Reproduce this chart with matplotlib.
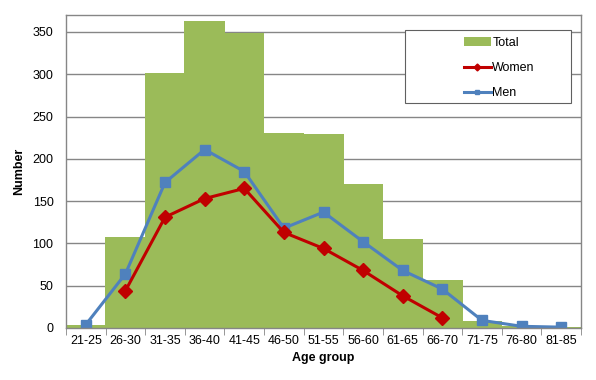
import matplotlib
matplotlib.use("Agg")
import matplotlib.pyplot as plt
from matplotlib.patches import Rectangle
import numpy as np

plt.rcParams['font.family'] = ['Liberation Sans', 'DejaVu Sans']

categories = ["21-25", "26-30", "31-35", "36-40", "41-45", "46-50", "51-55",
              "56-60", "61-65", "66-70", "71-75", "76-80", "81-85"]
total = [4, 108, 302, 363, 349, 230, 229, 170, 105, 57, 8, 2, 1]
women = [None, 44, 131, 153, 165, 113, 94, 68, 38, 12, None, None, None]
men = [4, 64, 172, 211, 185, 118, 137, 102, 68, 46, 9, 2, 1]

fig = plt.figure(figsize=(5.96, 3.80), dpi=100)
ax = fig.add_axes([66/596, 1-328/380, 515/596, 313/380])

x = np.arange(len(categories))
ax.bar(x, total, width=1.02, color="#9BBB59", edgecolor="none", linewidth=0,
       label="Total", zorder=2)
w = np.array([np.nan if v is None else v for v in women], dtype=float)
ax.plot(x, w, color="#C00000", lw=2.2, marker="D", ms=7, label="Women", zorder=4)
ax.plot(x, men, color="#4F81BD", lw=2.2, marker="s", ms=6.5, label="Men", zorder=3)

ax.set_xlim(-0.5, len(categories) - 0.5)
ax.set_ylim(0, 370)
ax.set_yticks(range(0, 351, 50))
ax.yaxis.grid(True, color="#868686", lw=1.0, zorder=0)
ax.set_axisbelow(True)
ax.set_xticks(x)
ax.set_xticklabels(categories, fontsize=9)
ax.set_xticks(np.arange(-0.5, len(categories), 1), minor=True)
ax.tick_params(axis='x', which='major', length=0, pad=5)
ax.tick_params(axis='x', which='minor', length=5, color="#868686")
ax.tick_params(axis='y', length=0, labelsize=9, pad=9)
for s in ax.spines.values():
    s.set_color("#868686")
    s.set_linewidth(1.0)
    s.set_zorder(5)

ax.set_xlabel("Age group", fontsize=9, fontweight="bold", labelpad=4)
ax.set_ylabel("Number", fontsize=9, fontweight="bold", labelpad=5)

# legend frame
ax.add_patch(Rectangle((0.658, 0.719), 0.323, 0.233, transform=ax.transAxes,
                       facecolor="white", edgecolor="#606060", lw=0.8, zorder=5))
h, l = ax.get_legend_handles_labels()
idx = [l.index("Total"), l.index("Women"), l.index("Men")]
leg = ax.legend([h[i] for i in idx], [l[i] for i in idx], loc="upper left",
                bbox_to_anchor=(0.75, 0.965), frameon=False, fontsize=9,
                handlelength=2.2, handletextpad=0.1, labelspacing=1.05,
                markerscale=0.5)
leg.set_zorder(6)

fig.savefig("out.png", dpi=100)
